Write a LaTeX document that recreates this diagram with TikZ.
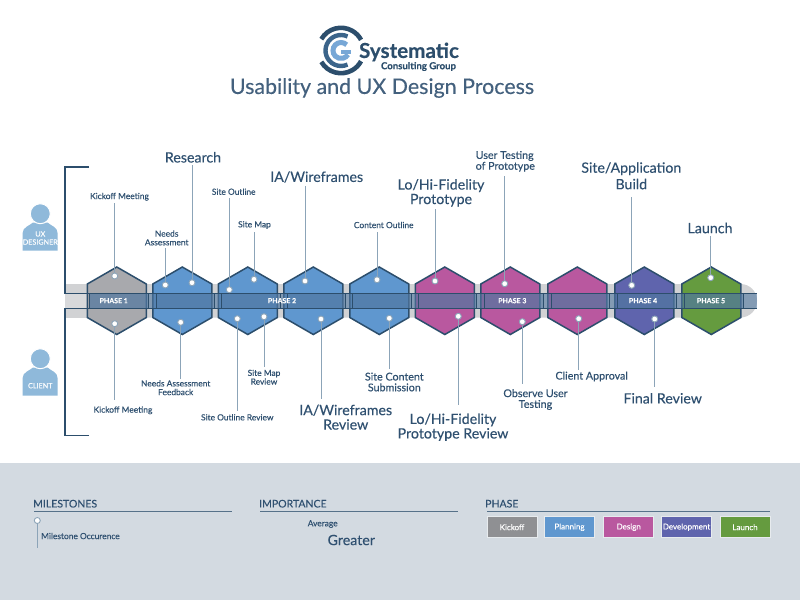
\documentclass[tikz,border=0pt]{standalone}
\usepackage{fontspec}
\setmainfont{Lato}[FakeBold=0.25]
\definecolor{ink}{HTML}{2F5070}
\definecolor{edge}{HTML}{2C4E6C}
\definecolor{stem}{HTML}{8CA4B8}
\definecolor{band}{HTML}{D1D2D4}
\definecolor{foot}{HTML}{D3DAE1}
\definecolor{cKick}{HTML}{A8A9AD}
\definecolor{cPlan}{HTML}{5F97CF}
\definecolor{cDes}{HTML}{B9589F}
\definecolor{cDev}{HTML}{5F64AD}
\definecolor{cLau}{HTML}{659B3F}
\definecolor{barblue}{HTML}{5077A0}
\definecolor{person}{HTML}{8FB9DA}
\tikzset{
 x=1pt,y=-1pt,
 small/.style={font=\fontsize{8.4}{8.7}\selectfont,text=ink,align=center,inner sep=0pt},
 mid/.style={font=\fontsize{10.7}{10.8}\selectfont,text=ink,align=center,inner sep=0pt},
 midleft/.style={mid,align=left},
 big/.style={font=\fontsize{14.2}{14.5}\selectfont,text=ink,align=center,inner sep=0pt},
 phaselab/.style={font=\fontsize{7}{8}\selectfont\bfseries,text=white,inner sep=0pt},
 dotm/.style={circle,draw=stem,fill=white,line width=0.9pt,minimum size=6pt,inner sep=0pt},
 stemline/.style={draw=stem,line width=1pt},
 hexa/.style={draw=edge,line width=1.5pt,line join=miter},
 head/.style={font=\fontsize{10.5}{11}\selectfont,text=ink,inner sep=0pt,anchor=west},
 rulel/.style={draw=edge!75!foot,line width=1pt},
 swatch/.style={minimum width=50pt,minimum height=21pt,inner sep=0pt,draw=white!45!foot,line width=.6pt,text=white,font=\fontsize{8}{9}\selectfont},
 personlab/.style={font=\fontsize{7.2}{8.6}\selectfont,text=white,align=center,inner sep=0pt},
 personbody/.style={fill=person},
 personhead/.style={fill=person,draw=white,line width=1pt},
}
\begin{document}
\begin{tikzpicture}
\useasboundingbox (0,0) rectangle (800,600);
\fill[white] (0,0) rectangle (800,600);
\fill[foot] (0,463) rectangle (800,600);
% logo
\draw[edge,line width=4.6pt] (341,50.5) ++(150:22.7pt) arc[start angle=150,end angle=28,radius=22.7pt];
\draw[edge,line width=4.6pt] (341,50.5) ++(210:22.7pt) arc[start angle=210,end angle=332,radius=22.7pt];
\draw[edge!70!cPlan,line width=4.4pt] (341,50.5) ++(65:15.5pt) arc[start angle=65,end angle=295,radius=15.5pt];
\draw[cPlan!85!white,line width=5pt] (341,50.5) ++(45:8pt) arc[start angle=45,end angle=330,radius=8pt];
\fill[cPlan!85!white] (341,49.5) rectangle (351,53.5);
\node[font=\fontsize{20.6}{22}\selectfont\bfseries,text=edge,inner sep=0pt] (brand) at (409,52) {Systematic};
\node[font=\fontsize{9.6}{11}\selectfont\bfseries,text=edge,inner sep=0pt] (brandsub) at (418.5,66.5) {Consulting Group};
\node[font=\fontsize{21.4}{23}\selectfont,text=ink!90!white,inner sep=0pt] (title) at (382,88) {Usability and UX Design Process};
% persons
\foreach \dy/\nm in {0/designer,145/client}{
 \begin{scope}[shift={(0,\dy)}]
 \path[personbody] (22.5,250.7) -- (22.5,233.5) .. controls (22.5,227) and (30,225.5) .. (33,222.5) -- (47.5,222.5) .. controls (50.5,225.5) and (57.7,227) .. (57.7,233.5) -- (57.7,250.7) -- cycle;
 \node[personhead,circle,minimum size=20pt,inner sep=0pt] (h\nm) at (40.3,213.7) {};
 \end{scope}
}
\node[personlab] (lbdes) at (40.3,238) {UX\\[-0.5pt]DESIGNER};
\node[personlab] (lbcli) at (40.3,385.7) {CLIENT};
% band
\path[fill=band,rounded corners=16.5pt] (65,284) rectangle (757,317.5);
\fill[band] (65,284) rectangle (100,317.5);
\fill[white!15!band] (65,293.5) rectangle (95,309);
% hexagons
\foreach \cx/\col in {116.8/cKick,182.3/cPlan,247.8/cPlan,313.3/cPlan,379.3/cPlan,444.8/cDes,510.3/cDes,577.3/cDes,644.3/cDev,711.3/cLau}{
 \path[hexa,fill=\col] (\cx,267) -- (\cx+29.5,284) -- (\cx+29.5,317.5) -- (\cx,334.5) -- (\cx-29.5,317.5) -- (\cx-29.5,284) -- cycle;
}
% bar segments, over all the hexagons
\foreach \a/\b/\c in {89.5/148.5/155.5,156/214.5/221,221.5/280.5/286.5,287/345.5/352,352.5/411/417.5,418/476.5/483.5,484/543/550.5,551/609.5/616.5,617/676.5/683.5,684/743.5/757}{
 \fill[barblue,opacity=.7] (\a,293.5) rectangle (\b,308.7);
 \fill[barblue,opacity=.6] (\b,293.5) rectangle (\c,308.7);
 \draw[edge,line width=.9pt] (\a,293.5) -- (\a,308.7) (\b,293.5) -- (\b,308.7);
}
% bracket and bar rails
\draw[edge,line width=1.5pt] (89,167) -- (65,167) -- (65,293.5) -- (757,293.5);
\draw[edge,line width=1.5pt] (89,435.5) -- (65,435.5) -- (65,308.7) -- (757,308.7);
% phases
\node[phaselab] (p1) at (113.7,300.7) {PHASE 1};
\node[phaselab] (p2) at (282,300.7) {PHASE 2};
\node[phaselab] (p3) at (512.3,300.7) {PHASE 3};
\node[phaselab] (p4) at (643,300.7) {PHASE 4};
\node[phaselab] (p5) at (711,300.7) {PHASE 5};
% milestones: name / dot x,y / free end y / label style, x, y / text
\foreach \n/\dx/\dy/\ey/\st/\lx/\ly/\txt in {
 a/114.7/276/203/small/119.5/196.7/{Kickoff Meeting},
 b/114.7/323.7/400/small/123/410.3/{Kickoff Meeting},
 c/165.3/285/247.7/small/166.7/237.9/{Needs\\Assessment},
 d/192/282.7/165/big/193/157.3/{Research},
 e/229.3/289.7/198/small/233.7/191.7/{Site Outline},
 f/254/279.3/232/small/254.5/225/{Site Map},
 g/180.7/322.3/378.7/small/175.7/387.7/{Needs Assessment\\Feedback},
 h/237.3/318.7/411/small/237.3/417.3/{Site Outline Review},
 i/264/316.7/366.7/small/264/377.2/{Site Map\\Review},
 j/305/281/186/big/316.7/177/{IA/Wireframes},
 k/377/279.7/231.7/small/383.7/225/{Content Outline},
 l/435/281/209.3/big/441/192.8/{Lo/Hi-Fidelity\\Prototype},
 m/504.7/283.7/176/midleft/505.3/161.3/{User Testing\\of Prototype},
 n/321/319/399.3/big/345.7/417.2/{IA/Wireframes\\Review},
 o/389.3/318.3/369.3/mid/394.3/382/{Site Content\\Submission},
 p/458.3/316.3/405/big/453/427.2/{Lo/Hi-Fidelity\\Prototype Review},
 q/522.3/321.7/384.3/mid/535.5/399.5/{Observe User\\Testing},
 r/578.7/318.7/370/mid/591.7/376.5/{Client Approval},
 s/631.7/285.3/196.7/big/631.3/175.8/{Site/Application\\[2pt]Build},
 t/654.7/319/387.3/big/662.7/398.3/{Final Review},
 u/710.7/277.7/236/big/710/228/{Launch}}{
 \node[dotm] (dot\n) at (\dx,\dy) {};
 \coordinate (end\n) at (\dx,\ey);
 \draw[stemline] (dot\n) -- (end\n);
 \node[\st] (lab\n) at (\lx,\ly) {\txt};
}
% legend
\node[head] (hm) at (33,503.7) {MILESTONES};
\node[head] (hi) at (259,503.7) {IMPORTANCE};
\node[head] (hp) at (485,503.7) {PHASE};
\draw[rulel] (34,511.7) -- (232,511.7);
\draw[rulel] (260,511.7) -- (458,511.7);
\draw[rulel] (487,511.7) -- (770,511.7);
\node[dotm] (legdot) at (37.3,520.5) {};
\coordinate (legend) at (37.3,547.5);
\draw[stemline] (legdot) -- (legend);
\node[small,anchor=west] (legtxt) at (41,536) {Milestone Occurence};
\node[small] (avg) at (322.7,524) {Average};
\node[big] (gr) at (351.3,540) {Greater};
\node[swatch,fill=cKick!85!black] (s1) at (512,527.2) {Kickoff};
\node[swatch,fill=cPlan] (s2) at (569.5,527.2) {Planning};
\node[swatch,fill=cDes] (s3) at (628.7,527.2) {Design};
\node[swatch,fill=cDev] (s4) at (686.5,527.2) {Development};
\node[swatch,fill=cLau] (s5) at (745,527.2) {Launch};
\end{tikzpicture}
\end{document}
